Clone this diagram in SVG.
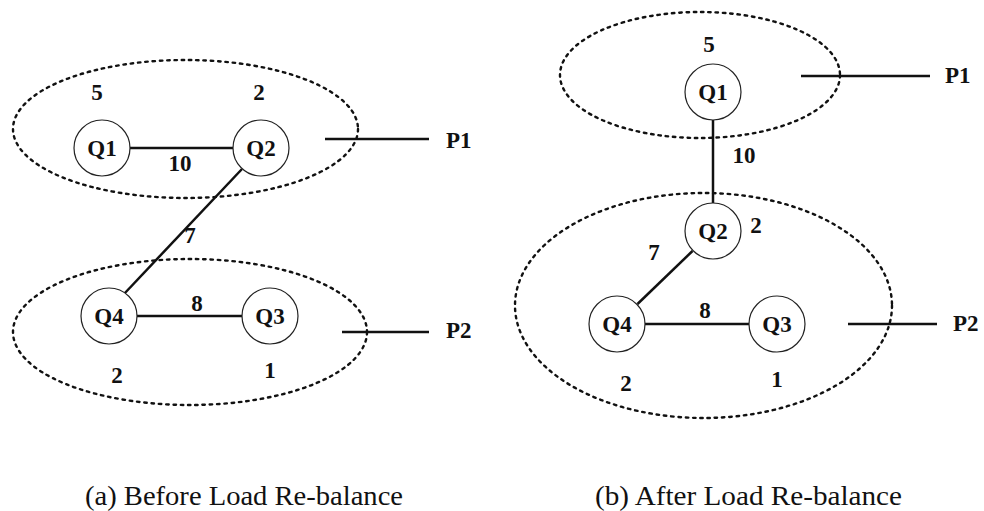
<svg xmlns="http://www.w3.org/2000/svg" width="984" height="511" viewBox="0 0 984 511">
<style>
.part{fill:none;stroke:#111;stroke-width:2.4;stroke-dasharray:2.5 4.8;stroke-linecap:round}
.node{fill:#fff;stroke:#222;stroke-width:1.2}
.edge{stroke:#111;stroke-width:2.5;fill:none}
.lbl{font-family:'Liberation Serif','Times New Roman',serif;font-weight:bold;font-size:23px;fill:#111}
.mid{text-anchor:middle}
.cap{font-family:'Liberation Serif','Times New Roman',serif;font-size:28px;fill:#111}
</style>
<rect width="984" height="511" fill="#fff"/>
<g id="partitions">
<ellipse class="part" cx="185.5" cy="129" rx="172.5" ry="69"/>
<ellipse class="part" cx="190" cy="332" rx="177" ry="73"/>
<ellipse class="part" cx="700" cy="75" rx="140" ry="63"/>
<ellipse class="part" cx="703.5" cy="305.5" rx="188.5" ry="112.5"/>
</g>
<g id="connectors">
<line class="edge" x1="130" y1="148" x2="233" y2="148"/>
<line class="edge" x1="242" y1="169" x2="124" y2="294"/>
<line class="edge" x1="137" y1="316" x2="242" y2="316"/>
<line class="edge" x1="325" y1="139" x2="429" y2="139"/>
<line class="edge" x1="342" y1="332" x2="429" y2="332"/>
<line class="edge" x1="713" y1="120" x2="713" y2="203"/>
<line class="edge" x1="692.5" y1="251" x2="637.5" y2="304"/>
<line class="edge" x1="645" y1="324" x2="749" y2="324"/>
<line class="edge" x1="801" y1="76" x2="930" y2="76"/>
<line class="edge" x1="848" y1="324" x2="937" y2="324"/>
</g>
<g id="a-Q1"><circle class="node" cx="102" cy="148" r="28"/><text class="lbl mid" x="102" y="155.5">Q1</text></g>
<g id="a-Q2"><circle class="node" cx="261" cy="148" r="28"/><text class="lbl mid" x="261" y="155.5">Q2</text></g>
<g id="a-Q4"><circle class="node" cx="109" cy="316" r="28"/><text class="lbl mid" x="109" y="323.5">Q4</text></g>
<g id="a-Q3"><circle class="node" cx="270" cy="316" r="28"/><text class="lbl mid" x="270" y="323.5">Q3</text></g>
<g id="b-Q1"><circle class="node" cx="713" cy="92" r="28"/><text class="lbl mid" x="713" y="99.5">Q1</text></g>
<g id="b-Q2"><circle class="node" cx="713" cy="231" r="28"/><text class="lbl mid" x="713" y="238.5">Q2</text></g>
<g id="b-Q4"><circle class="node" cx="617" cy="324" r="28"/><text class="lbl mid" x="617" y="331.5">Q4</text></g>
<g id="b-Q3"><circle class="node" cx="777" cy="324" r="28"/><text class="lbl mid" x="777" y="331.5">Q3</text></g>
<g id="labels">
<text class="lbl mid" x="97" y="100">5</text>
<text class="lbl mid" x="259" y="100">2</text>
<text class="lbl mid" x="180" y="170.5">10</text>
<text class="lbl" x="446" y="148">P1</text>
<text class="lbl mid" x="190" y="243">7</text>
<text class="lbl mid" x="197" y="311">8</text>
<text class="lbl mid" x="117" y="383">2</text>
<text class="lbl mid" x="270" y="378">1</text>
<text class="lbl" x="446" y="338">P2</text>
<text class="lbl mid" x="709" y="52">5</text>
<text class="lbl" x="945" y="83">P1</text>
<text class="lbl mid" x="744" y="163">10</text>
<text class="lbl mid" x="756" y="233">2</text>
<text class="lbl mid" x="654" y="260">7</text>
<text class="lbl mid" x="705" y="318">8</text>
<text class="lbl mid" x="626" y="391">2</text>
<text class="lbl mid" x="777" y="387">1</text>
<text class="lbl" x="953" y="331">P2</text>
</g>
<g id="captions">
<text class="cap" x="85" y="505" textLength="318" lengthAdjust="spacingAndGlyphs">(a) Before Load Re-balance</text>
<text class="cap" x="595" y="505" textLength="307" lengthAdjust="spacingAndGlyphs">(b) After Load Re-balance</text>
</g>
</svg>
